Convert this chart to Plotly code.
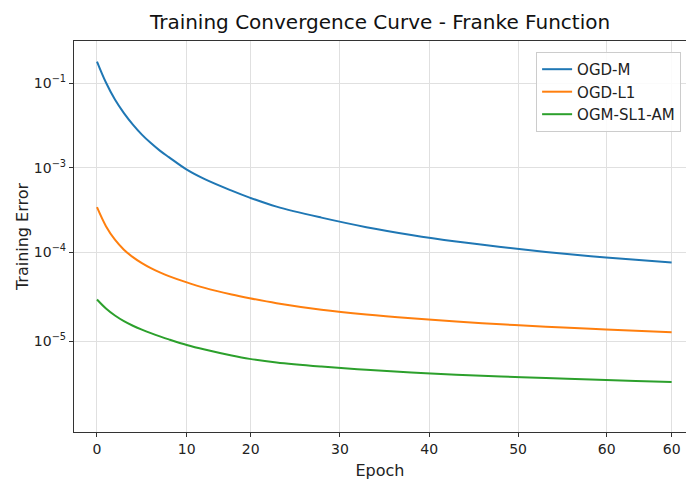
import plotly.graph_objects as go

epochs = [0, 1, 2, 3, 4, 5, 6, 7, 8, 10, 12, 15, 17, 20, 25, 30, 35, 40, 45, 50, 55, 60, 64]

ogd_m = [1.382e-2, 8.03e-3, 5.17e-3, 3.645e-3, 2.707e-3, 2.091e-3, 1.678e-3, 1.382e-3, 1.168e-3,
         8.45e-4, 6.61e-4, 4.91e-4, 4.10e-4, 3.245e-4, 2.442e-4, 1.910e-4, 1.561e-4, 1.319e-4,
         1.144e-4, 1.005e-4, 9.02e-5, 8.21e-5, 7.68e-5]
ogd_l1 = [3.20e-4, 1.960e-4, 1.382e-4, 1.067e-4, 8.79e-5, 7.52e-5, 6.61e-5, 5.93e-5, 5.39e-5,
          4.58e-5, 3.97e-5, 3.35e-5, 3.04e-5, 2.673e-5, 2.259e-5, 1.995e-5, 1.808e-5, 1.665e-5,
          1.548e-5, 1.455e-5, 1.378e-5, 1.312e-5, 1.262e-5]
ogm_sl1_am = [2.940e-5, 2.331e-5, 1.945e-5, 1.681e-5, 1.493e-5, 1.350e-5, 1.233e-5, 1.135e-5, 1.050e-5,
              9.09e-6, 8.07e-6, 6.91e-6, 6.34e-6, 5.78e-6, 5.20e-6, 4.77e-6, 4.46e-6, 4.21e-6,
              4.02e-6, 3.86e-6, 3.71e-6, 3.58e-6, 3.49e-6]

series_names = ["OGD-M", "OGD-L1", "OGM-SL1-AM"]
series_colors = ["#1f77b4", "#ff7f0e", "#2ca02c"]

# Tick labels as printed on the reference
x_tickvals = [0, 10, 17.12, 27.06, 37.0, 46.9, 56.76, 64]
x_ticktext = ["0", "10", "20", "30", "40", "50", "60", "60"]
y_tickvals = [10 ** -2.1045, 10 ** -3.0528, 1e-4, 1e-5]
y_ticktext = ["10<sup>−1</sup>", "10<sup>−3</sup>", "10<sup>−4</sup>", "10<sup>−5</sup>"]

FONT = "DejaVu Sans, Liberation Sans, sans-serif"

fig = go.Figure()
for name, ys, col in zip(series_names, [ogd_m, ogd_l1, ogm_sl1_am], series_colors):
    fig.add_trace(go.Scatter(x=epochs, y=ys, mode="lines", name=name,
                             line=dict(color=col, width=2, shape="spline", smoothing=1.0)))

fig.update_layout(
    width=686, height=481,
    margin=dict(l=74, r=0, t=41, b=49),
    paper_bgcolor="white", plot_bgcolor="white",
    font=dict(family=FONT, color="#222222"),
    title=dict(text="Training Convergence Curve - Franke Function",
               x=380 / 686, xanchor="center", xref="container",
               y=1 - 22 / 481, yanchor="middle", yref="container",
               font=dict(size=20, family=FONT, color="#111111")),
    legend=dict(x=0.992, xanchor="right", y=0.972, yanchor="top",
                bgcolor="rgba(255,255,255,0.85)", bordercolor="#cccccc", borderwidth=1,
                font=dict(size=15, family=FONT, color="#222222")),
    showlegend=True,
)

fig.update_xaxes(
    range=[-2.56, 65.6],
    tickvals=x_tickvals, ticktext=x_ticktext,
    showgrid=True, gridcolor="#e0e0e0", gridwidth=1,
    showline=True, linecolor="#333333", linewidth=1.2, mirror=True,
    ticks="outside", ticklen=4, tickcolor="#333333",
    tickfont=dict(size=14, family=FONT, color="#222222"),
    zeroline=False,
    title=dict(text="Epoch", font=dict(size=16, family=FONT, color="#222222"), standoff=8),
)
fig.update_yaxes(
    type="log",
    range=[-6.019, -1.629],
    tickvals=y_tickvals, ticktext=y_ticktext,
    showgrid=True, gridcolor="#e0e0e0", gridwidth=1,
    showline=True, linecolor="#333333", linewidth=1.2, mirror=False,
    ticks="outside", ticklen=4, tickcolor="#333333",
    tickfont=dict(size=14, family=FONT, color="#222222"),
    zeroline=False,
    title=dict(text="Training Error", font=dict(size=16, family=FONT, color="#222222"), standoff=1),
)

fig.write_html("out.html")
